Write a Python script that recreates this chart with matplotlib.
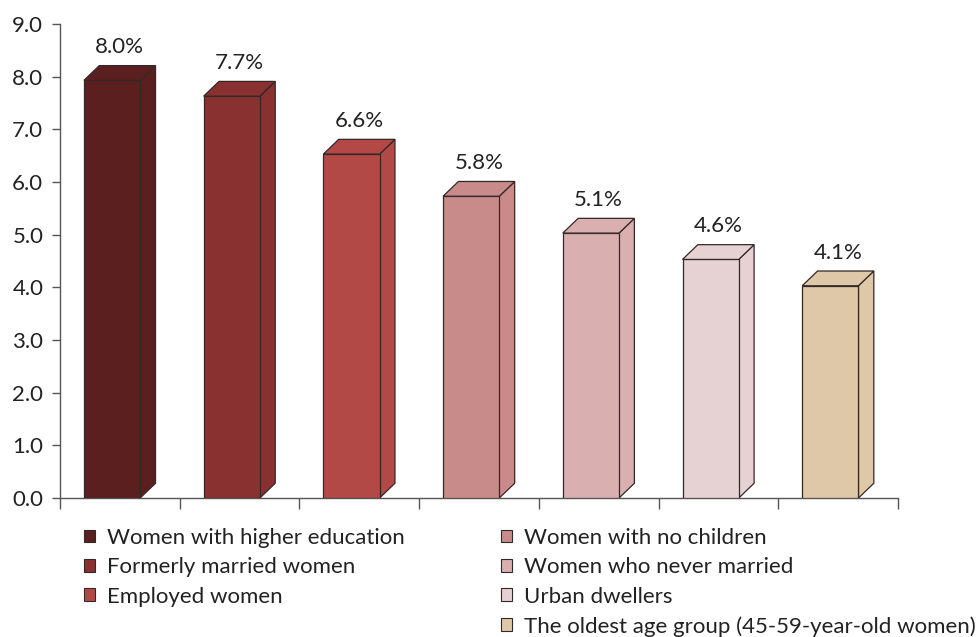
import matplotlib.pyplot as plt
from matplotlib.patches import Patch

plt.rcParams['font.family'] = ['Lato', 'DejaVu Sans']

categories = ['Women with higher education', 'Formerly married women', 'Employed women',
              'Women with no children', 'Women who never married', 'Urban dwellers',
              'The oldest age group (45-59-year-old women)']
values = [8.0, 7.7, 6.6, 5.8, 5.1, 4.6, 4.1]
labels = ['8.0%', '7.7%', '6.6%', '5.8%', '5.1%', '4.6%', '4.1%']
colors = ['#5C1F1F', '#893131', '#B24947', '#C98B8A', '#D9AFAF', '#E6D2D3', '#DEC8A7']
yticks = [0, 1, 2, 3, 4, 5, 6, 7, 8, 9]

fig = plt.figure(figsize=(9.8, 6.37), dpi=100)
ax = fig.add_axes([60 / 980, 139 / 637, 838 / 980, 474 / 637])

w = 0.47      # front face width
dx = 0.128    # depth, x units
dz = 0.28     # depth, y units
edge = '#332828'
fs = 16

for i, (v, c) in enumerate(zip(values, colors)):
    x0 = i - 0.065 - w / 2
    h = v - 0.07
    ax.bar(x0, h, width=w, align='edge', color=c, edgecolor=edge, linewidth=0.9,
           label=categories[i], zorder=3)
    # side face
    ax.fill([x0 + w, x0 + w + dx, x0 + w + dx, x0 + w],
            [0, dz, h + dz, h], color=c, ec=edge, lw=0.9, zorder=2)
    # top face
    ax.fill([x0, x0 + dx, x0 + w + dx, x0 + w],
            [h, h + dz, h + dz, h], color=c, ec=edge, lw=0.9, zorder=4)
    ax.text(x0 + w / 2 + dx / 2, h + dz + 0.16, labels[i], ha='center', va='bottom',
            fontsize=fs, color='#222222')

ax.set_xlim(-0.5, 6.5)
ax.set_ylim(0, 9)
ax.set_yticks(yticks)
ax.set_yticklabels([f'{t:.1f}' for t in yticks], fontsize=fs, color='#222222')
ax.set_xticks([i - 0.5 for i in range(8)])
ax.set_xticklabels([])
ax.tick_params(axis='x', direction='out', length=8, width=1, color='#555555')
ax.tick_params(axis='y', direction='out', length=6, width=1, color='#555555', pad=6)
for s in ['top', 'right']:
    ax.spines[s].set_visible(False)
for s in ['left', 'bottom']:
    ax.spines[s].set_color('#555555')
    ax.spines[s].set_linewidth(1)

handles = [Patch(facecolor=c, edgecolor=edge, linewidth=0.8) for c in colors]
common = dict(loc='upper left', frameon=False, fontsize=fs, handlelength=0.5,
              handleheight=0.5, handletextpad=0.55, labelspacing=0.42,
              borderpad=0, borderaxespad=0)
leg1 = fig.legend(handles[:3], categories[:3], bbox_to_anchor=(84 / 980, 1 - 528 / 637), **common)
leg2 = fig.legend(handles[3:], categories[3:], bbox_to_anchor=(501 / 980, 1 - 528 / 637), **common)
for leg in (leg1, leg2):
    for t in leg.get_texts():
        t.set_color('#222222')

fig.savefig('out.png', dpi=100)
